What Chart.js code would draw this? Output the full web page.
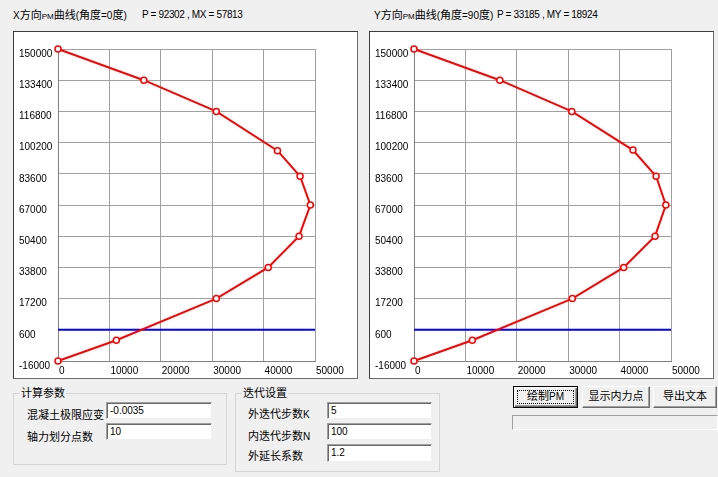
<!DOCTYPE html>
<html>
<head>
<meta charset="utf-8">
<script src="https://cdn.jsdelivr.net/npm/chart.js@4.4.0/dist/chart.umd.min.js"></script>
<style>
html,body{margin:0;padding:0;background:#f0f0f0;}
#root{position:relative;width:718px;height:477px;overflow:hidden;background:#f0f0f0;font-family:"Liberation Sans","Noto Sans CJK SC",sans-serif;color:#000;}
.abs{position:absolute;white-space:nowrap;}
.title{font-size:11px;line-height:14px;top:8px;}
.title .l{font-size:10px;}
.title .s{font-size:8px;}
.num{font-size:10px;line-height:14px;top:8px;letter-spacing:-0.35px;}
.panel{position:absolute;top:31px;width:345px;height:348px;box-sizing:border-box;background:#fff;border:1px solid #6a6a6a;border-top-color:#3c3c3c;border-left-color:#3c3c3c;}
.panel canvas{position:absolute;left:0;top:0;}
.group{position:absolute;box-sizing:border-box;border:1px solid #d5d5d5;}
.glabel{position:absolute;top:-8px;left:6px;background:#f0f0f0;padding:0 1px;font-size:11px;line-height:14px;white-space:nowrap;}
.lbl{position:absolute;font-size:11px;line-height:14px;white-space:nowrap;}
.inp{position:absolute;box-sizing:border-box;background:#fff;border:1px solid;border-color:#a0a0a0 #f0f0f0 #f0f0f0 #a0a0a0;box-shadow:inset 1px 1px 0 #696969;font-size:10px;line-height:12px;padding:2px 0 0 3px;}
.btn{position:absolute;box-sizing:border-box;top:386px;height:22px;background:#f0f0f0;border:1px solid;border-color:#fff #696969 #696969 #fff;box-shadow:inset -1px -1px 0 #a0a0a0;font-size:11px;line-height:19px;text-align:center;}
.btn.def{border:1px solid #000;box-shadow:inset 1px 1px 0 #fff, inset -1px -1px 0 #696969, inset -2px -2px 0 #a0a0a0;}
.focus{position:absolute;left:3px;top:3px;right:3px;bottom:3px;border:1px dotted #000;}
.bar{position:absolute;box-sizing:border-box;left:512px;top:415px;width:206px;height:15px;border:1px solid;border-color:#a0a0a0 #fff #fff #a0a0a0;background:#f0f0f0;}
</style>
</head>
<body>
<div id="root">
  <div class="abs title" style="left:13px;"><span class="l">X</span>方向<span class="s">PM</span>曲线<span class="l">(</span>角度<span class="l">=0</span>度<span class="l">)</span></div>
  <div class="abs num" style="left:142px;">P = 92302 , MX = 57813</div>
  <div class="abs title" style="left:374px;"><span class="l">Y</span>方向<span class="s">PM</span>曲线<span class="l">(</span>角度<span class="l">=90</span>度<span class="l">)</span></div>
  <div class="abs num" style="left:497px;">P = 33185 , MY = 18924</div>

  <div class="panel" style="left:13px;"><canvas id="cx" width="343" height="346"></canvas></div>
  <div class="panel" style="left:369px;"><canvas id="cy" width="343" height="346"></canvas></div>

  <div class="group" style="left:13px;top:393px;width:214px;height:72px;"><div class="glabel">计算参数</div></div>
  <div class="lbl" style="left:27px;top:408px;">混凝土极限应变</div>
  <div class="lbl" style="left:27px;top:430px;">轴力划分点数</div>
  <div class="inp" style="left:106px;top:402px;width:106px;height:17px;">-0.0035</div>
  <div class="inp" style="left:106px;top:423px;width:106px;height:17px;">10</div>

  <div class="group" style="left:235px;top:393px;width:205px;height:79px;"><div class="glabel">迭代设置</div></div>
  <div class="lbl" style="left:248px;top:407px;">外迭代步数<span style="font-size:10px">K</span></div>
  <div class="lbl" style="left:248px;top:429px;">内迭代步数<span style="font-size:10px">N</span></div>
  <div class="lbl" style="left:248px;top:449px;">外延长系数</div>
  <div class="inp" style="left:327px;top:402px;width:105px;height:17px;">5</div>
  <div class="inp" style="left:327px;top:423px;width:105px;height:17px;">100</div>
  <div class="inp" style="left:327px;top:444px;width:105px;height:18px;">1.2</div>

  <div class="btn def" style="left:513px;width:65px;"><div class="focus"></div>绘制<span style="font-size:10px">PM</span></div>
  <div class="btn" style="left:582px;width:68px;">显示内力点</div>
  <div class="btn" style="left:653px;width:64px;">导出文本</div>
  <div class="bar"></div>
</div>
<script>
// X direction PM curve (angle = 0)
const xCurveM = [0, 16700, 30800, 42700, 47100, 49100, 46900, 40900, 30800, 11350, 0];
const xCurveP = [150000, 133400, 116800, 95900, 82300, 67000, 50400, 33800, 17200, -4950, -16000];
// Y direction PM curve (angle = 90)
const yCurveM = [0, 16700, 30700, 42600, 47100, 49000, 46900, 40800, 30800, 11350, 0];
const yCurveP = [150000, 133400, 116800, 96200, 82300, 67000, 50400, 33800, 17200, -4950, -16000];
// blue reference line
const refLineM = [0, 50000];
const refLineP = [600, 600];
// tick labels
const xTickValues = [0, 10000, 20000, 30000, 40000, 50000];
const yTickValues = [-16000, 600, 17200, 33800, 50400, 67000, 83600, 100200, 116800, 133400, 150000];

const FONT = {family: "'Liberation Sans', Arial, sans-serif", size: 10};

function makeChart(id, M, P) {
  return new Chart(document.getElementById(id), {
    type: 'scatter',
    data: {
      datasets: [
        {
          data: M.map((m, i) => ({x: m, y: P[i]})),
          showLine: true,
          borderColor: '#ff0000',
          borderWidth: 2,
          pointRadius: 3,
          pointBorderWidth: 1.5,
          pointBorderColor: '#ff0000',
          pointBackgroundColor: '#ffffff',
          clip: false
        },
        {
          data: refLineM.map((m, i) => ({x: m, y: refLineP[i]})),
          showLine: true,
          borderColor: '#0000ff',
          borderWidth: 2,
          pointRadius: 0,
          clip: false
        }
      ]
    },
    options: {
      responsive: false,
      animation: false,
      devicePixelRatio: 1,
      layout: {padding: {left: 5, right: 42, top: 17, bottom: 0}},
      plugins: {legend: {display: false}, tooltip: {enabled: false}},
      scales: {
        x: {
          type: 'linear', min: 0, max: 50000,
          afterBuildTicks: s => { s.ticks = xTickValues.map(v => ({value: v})); },
          afterFit: s => { s.height = 17; },
          grid: {color: '#a0a0a0', drawTicks: false, lineWidth: 1},
          border: {color: '#808080'},
          ticks: {align: 'start', labelOffset: 1, padding: 4, color: '#000', font: FONT, maxRotation: 0, autoSkip: false, callback: v => String(v)}
        },
        y: {
          type: 'linear', min: -16000, max: 150000,
          afterBuildTicks: s => { s.ticks = yTickValues.map(v => ({value: v})); },
          afterFit: s => { s.width = 39; },
          grid: {color: '#a0a0a0', drawTicks: false, lineWidth: 1},
          border: {color: '#808080'},
          ticks: {crossAlign: 'far', labelOffset: 5, padding: 0, color: '#000', font: FONT, autoSkip: false, callback: v => String(v)}
        }
      }
    }
  });
}
makeChart('cx', xCurveM, xCurveP);
makeChart('cy', yCurveM, yCurveP);
</script>
</body>
</html>
